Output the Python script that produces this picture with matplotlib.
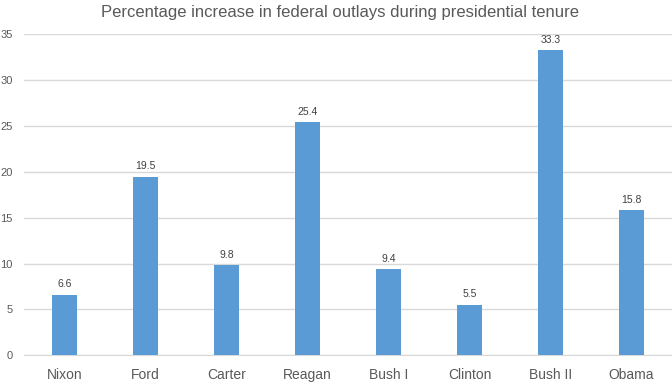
import matplotlib
matplotlib.use("Agg")
import matplotlib.pyplot as plt

presidents = ["Nixon", "Ford", "Carter", "Reagan", "Bush I", "Clinton", "Bush II", "Obama"]
increase = [6.6, 19.5, 9.8, 25.4, 9.4, 5.5, 33.3, 15.8]
yticks = [0, 5, 10, 15, 20, 25, 30, 35]

txt = "#595959"
plt.rcParams["font.family"] = ["Liberation Sans", "DejaVu Sans"]

fig = plt.figure(figsize=(6.72, 3.84), dpi=100)
ax = fig.add_axes([0.0357, 0.0747, 0.9643, 0.8355])

x = range(len(presidents))
bars = ax.bar(x, increase, width=0.31, color="#5B9BD5", zorder=3)
for xi, v in zip(x, increase):
    ax.text(xi, v + 0.6, f"{v}", ha="center", va="bottom", fontsize=7.5, color="#404040")

ax.set_xlim(-0.5, len(presidents) - 0.5)
ax.set_ylim(0, 35)
ax.set_yticks(yticks)
ax.set_xticks(list(x))
ax.set_xticklabels(presidents, fontsize=10, color=txt)
ax.tick_params(axis="y", labelsize=8, colors=txt, length=0, pad=8)
ax.tick_params(axis="x", length=0, pad=9)
ax.yaxis.grid(True, color="#D9D9D9", linewidth=1, zorder=0)
for s in ["top", "right", "left"]:
    ax.spines[s].set_visible(False)
ax.spines["bottom"].set_color("#D9D9D9")

fig.text(0.506, 0.968, "Percentage increase in federal outlays during presidential tenure",
         ha="center", va="center", fontsize=12, color=txt)

fig.savefig("out.png", dpi=100)
